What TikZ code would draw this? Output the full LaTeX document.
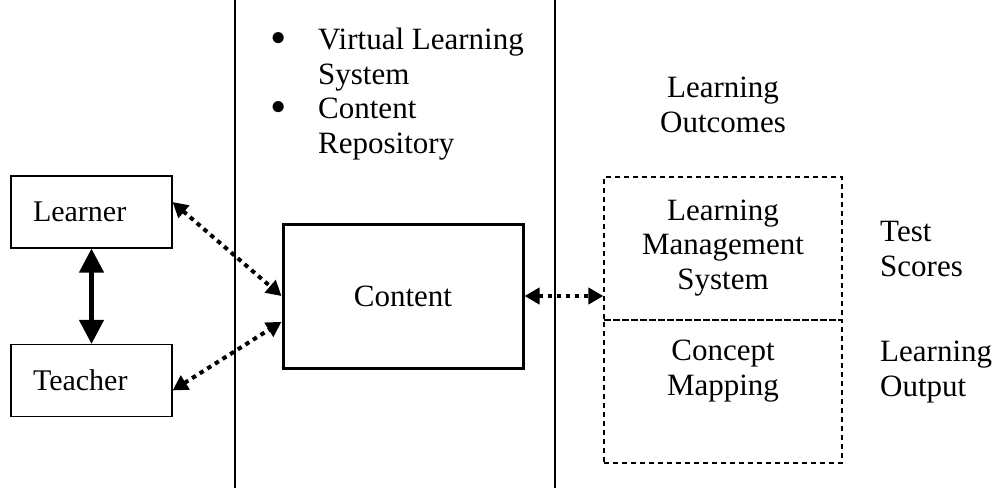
\documentclass[tikz,border=0pt]{standalone}
\usepackage{fontspec}
\setmainfont{Liberation Serif}
\usetikzlibrary{arrows.meta}
\newcommand{\bigbul}{\raisebox{-0.12em}{\scalebox{1.5}{\textbullet}}}
\begin{document}
\begin{tikzpicture}[x=1pt,y=-1pt,
  txt/.style={font=\fontsize{31}{34.5}\selectfont, align=center, inner sep=0pt},
  sidebox/.style={draw, line width=1.2pt, minimum width=161pt, minimum height=72pt,
     text width=117pt, inner xsep=22pt, align=left, font=\fontsize{30}{35}\selectfont},
  dbox/.style={draw, dashed, dash pattern=on 5pt off 4pt, line width=1.2pt,
     minimum width=238pt, minimum height=143pt, inner sep=0pt},
  dotarrow/.style={line width=4pt, dash pattern=on 4.5pt off 4.5pt,
     {Triangle[width=16pt,length=15pt,sep=0pt]}-{Triangle[width=16pt,length=15pt]}},
  solidarrow/.style={line width=4.5pt, {Triangle[width=24pt,length=24pt]}-{Triangle[width=24pt,length=24pt]}},
  divider/.style={line width=1.3pt}]
\useasboundingbox (0,0) rectangle (998,488);
% divider lines
\coordinate (d1t) at (235,0); \coordinate (d1b) at (235,488);
\coordinate (d2t) at (555,0); \coordinate (d2b) at (555,488);
\draw[divider] (d1t) -- (d1b);
\draw[divider] (d2t) -- (d2b);
% left boxes
\node[sidebox] (learner) at (91.5,212) {Learner};
\node[sidebox] (teacher) at (91.5,380.5) {Teacher};
\draw[solidarrow] (learner.south) -- (teacher.north);
% content
\node[draw, line width=3pt, minimum width=240pt, minimum height=144pt, txt] (content) at (403,296) {Content};
\draw[dotarrow] (learner.7) -- (content.west);
\draw[dotarrow] (teacher.-7) -- (content.192);
% bullet list
\node[txt, anchor=west, align=left] (bullets) at (270,94.5) {%
  \begin{tabular}{@{}p{48pt}@{}l@{}}
  \bigbul & Virtual Learning\\
   & System\\
  \bigbul & Content\\
   & Repository
  \end{tabular}};
% right side
\node[txt] (outcomes) at (723,105) {Learning\\Outcomes};
\node[dbox] (lms) at (723,248.5) {};
\node[dbox] (cm) at (723,391.5) {};
\node[txt] (lmstext) at (723,248) {Learning\\Management\\System};
\node[txt] (cmtext) at (723,371) {Concept\\Mapping};
\draw[dotarrow] (content.east) -- (lms.west |- content.east);
\node[txt, anchor=west, align=left] (scores) at (880,249) {Test\\Scores};
\node[txt, anchor=west, align=left] (output) at (880,372) {Learning\\Output};
\end{tikzpicture}
\end{document}
